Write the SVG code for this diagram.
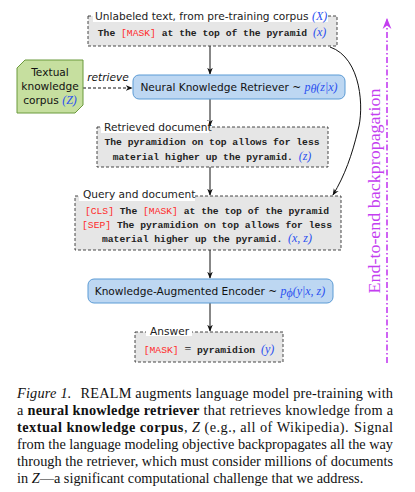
<svg xmlns="http://www.w3.org/2000/svg" width="415" height="492" viewBox="0 0 415 492">
<defs>
<style>
.dbox{fill:#e6e6e6;stroke:#333;stroke-width:0.9;stroke-dasharray:3,2}
.bbox{fill:#bdd7f2;stroke:#5b9bd5;stroke-width:1}
.title{font-family:"DejaVu Sans","Liberation Sans",sans-serif;font-size:10.6px;fill:#222}
.sans{font-family:"DejaVu Sans","Liberation Sans",sans-serif;font-size:10.6px;fill:#111}
.mono{font-family:"Liberation Mono","DejaVu Sans Mono",monospace;font-size:9.7px;font-weight:bold;fill:#222}
.red{fill:#ff2a2a;font-weight:normal}
.math{font-family:"Liberation Serif","DejaVu Serif",serif;font-style:italic;fill:#2a50f0;font-size:12px;font-weight:normal}
.wbg{fill:#fff}
.edge{fill:none;stroke:#111;stroke-width:1}
.cap{font-family:"Liberation Serif",serif;font-size:14.3px;fill:#111}
</style>
<marker id="arr" viewBox="0 0 10 10" refX="9" refY="5" markerWidth="7" markerHeight="7" orient="auto" markerUnits="userSpaceOnUse">
<path d="M0,1 L10,5 L0,9 L3,5 Z" fill="#111"/>
</marker>
<marker id="parr" viewBox="0 0 10 10" refX="9" refY="5" markerWidth="11" markerHeight="11" orient="auto" markerUnits="userSpaceOnUse">
<path d="M0,1 L10,5 L0,9 L3,5 Z" fill="#c43ef0"/>
</marker>
</defs>

<g id="connectors">
<line class="edge" x1="210" y1="46" x2="210" y2="74" marker-end="url(#arr)"/>
<line class="edge" x1="210" y1="99" x2="210" y2="126" marker-end="url(#arr)"/>
<line class="edge" x1="210" y1="167" x2="210" y2="195" marker-end="url(#arr)"/>
<line class="edge" x1="210" y1="250" x2="210" y2="278" marker-end="url(#arr)"/>
<line class="edge" x1="210" y1="303" x2="210" y2="331" marker-end="url(#arr)"/>
<path class="edge" d="M330,47 C362,58 364,110 358,130 C352,155 345,175 333,195" marker-end="url(#arr)"/>
<line class="edge" x1="83" y1="88" x2="132" y2="88" stroke-dasharray="3,2" marker-end="url(#arr)"/>
<text x="108" y="81" class="sans" font-style="italic" text-anchor="middle" font-size="10">retrieve</text>
</g>

<g id="pretrain">
<rect class="dbox" x="88" y="16" width="249" height="30"/>
<rect class="wbg" x="93" y="9" width="235" height="13"/>
<text class="title" x="95" y="20">Unlabeled text, from pre-training corpus <tspan class="math">(X)</tspan></text>
<text class="mono" x="212" y="36" text-anchor="middle">The <tspan class="red">[MASK]</tspan> at the top of the pyramid <tspan class="math">(x)</tspan></text>
</g>

<g id="corpus">
<polygon points="25,60 83,60 83,105 75,113 17,113 17,68" fill="#c6df9f" stroke="#6b9a3c" stroke-width="1"/>
<text class="sans" x="50" y="76" text-anchor="middle">Textual</text>
<text class="sans" x="50" y="90" text-anchor="middle">knowledge</text>
<text class="sans" x="50" y="104" text-anchor="middle">corpus <tspan class="math">(Z)</tspan></text>
</g>

<g id="retriever">
<rect class="bbox" x="133" y="75" width="212" height="24" rx="6"/>
<text class="sans" x="239" y="91" text-anchor="middle">Neural Knowledge Retriever ~ <tspan class="math">p</tspan><tspan class="math" font-size="8" dy="2" font-weight="bold">θ</tspan><tspan class="math" dy="-2">(z|x)</tspan></text>
</g>

<g id="retrieved">
<rect class="dbox" x="97" y="127" width="231" height="40"/>
<rect class="wbg" x="101" y="121" width="108" height="12"/>
<text class="title" x="104" y="131">Retrieved document</text>
<text class="mono" x="212" y="145" text-anchor="middle">The pyramidion on top allows for less</text>
<text class="mono" x="212" y="160" text-anchor="middle">material higher up the pyramid. <tspan class="math">(z)</tspan></text>
</g>

<g id="query">
<rect class="dbox" x="75" y="196" width="266" height="54"/>
<rect class="wbg" x="79" y="188" width="116" height="13"/>
<text class="title" x="83" y="198">Query and document</text>
<text class="mono" x="207" y="214" text-anchor="middle"><tspan class="red">[CLS]</tspan> The <tspan class="red">[MASK]</tspan> at the top of the pyramid</text>
<text class="mono" x="207" y="228" text-anchor="middle"><tspan class="red">[SEP]</tspan> The pyramidion on top allows for less</text>
<text class="mono" x="207" y="242" text-anchor="middle">material higher up the pyramid. <tspan class="math">(x, z)</tspan></text>
</g>

<g id="encoder">
<rect class="bbox" x="88" y="279" width="245" height="24" rx="6"/>
<text class="sans" x="210" y="295" text-anchor="middle">Knowledge-Augmented Encoder ~ <tspan class="math">p</tspan><tspan class="math" font-size="8" dy="2">ϕ</tspan><tspan class="math" dy="-2">(y|x, z)</tspan></text>
</g>

<g id="answer">
<rect class="dbox" x="135" y="332" width="148" height="30"/>
<rect class="wbg" x="146" y="324" width="46" height="12"/>
<text class="title" x="150" y="335">Answer</text>
<text class="mono" x="209" y="353" text-anchor="middle"><tspan class="red">[MASK]</tspan> <tspan font-family="Liberation Serif" font-weight="normal" font-size="12">=</tspan> pyramidion <tspan class="math">(y)</tspan></text>
</g>

<g id="backprop">
<line x1="387" y1="363" x2="387" y2="19" stroke="#c43ef0" stroke-width="1.6" stroke-dasharray="6,2.5,1.5,2.5" marker-end="url(#parr)"/>
<text transform="translate(380,191) rotate(-90)" text-anchor="middle" font-family="Liberation Serif,serif" font-size="16.5" fill="#c43ef0" textLength="205" lengthAdjust="spacingAndGlyphs">End-to-end backpropagation</text>
</g>

<g id="caption">
<text class="cap" x="17" y="398" textLength="376" lengthAdjust="spacing"><tspan font-style="italic">Figure 1.</tspan><tspan dx="9">REALM augments language model pre-training with</tspan></text>
<text class="cap" x="17" y="415" textLength="376" lengthAdjust="spacing">a <tspan font-weight="bold">neural knowledge retriever</tspan> that retrieves knowledge from a</text>
<text class="cap" x="17" y="432" textLength="376" lengthAdjust="spacing"><tspan font-weight="bold">textual knowledge corpus</tspan>, <tspan font-style="italic">Z</tspan> (e.g., all of Wikipedia).<tspan dx="5">Signal</tspan></text>
<text class="cap" x="17" y="449" textLength="376" lengthAdjust="spacing">from the language modeling objective backpropagates all the way</text>
<text class="cap" x="17" y="466" textLength="376" lengthAdjust="spacing">through the retriever, which must consider millions of documents</text>
<text class="cap" x="17" y="483">in <tspan font-style="italic">Z</tspan>—a significant computational challenge that we address.</text>
</g>
</svg>
